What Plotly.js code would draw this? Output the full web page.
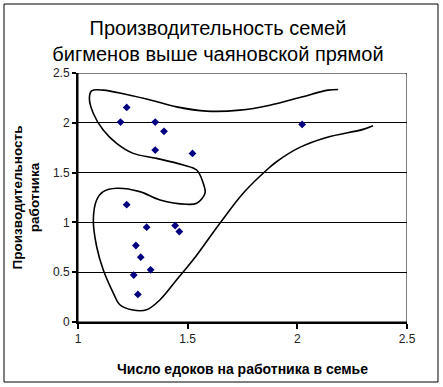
<!DOCTYPE html>
<html>
<head>
<meta charset="utf-8">
<script src="https://cdn.plot.ly/plotly-3.0.1.min.js"></script>
<style>html,body{margin:0;padding:0;background:#fff;}#chart{width:443px;height:387px;}</style>
</head>
<body>
<div id="chart"></div>
<script>
// Points: eaters per worker (x) vs productivity per worker (y)
const eatersPerWorker = [1.222, 1.194, 1.352, 1.392, 1.352, 1.522, 1.222, 1.313, 1.443, 1.462, 1.264, 1.286, 1.331, 1.254, 1.273, 2.022];
const productivity    = [2.154, 2.007, 2.007, 1.914, 1.726, 1.693, 1.178, 0.952, 0.968, 0.908, 0.768, 0.651, 0.524, 0.471, 0.277, 1.984];

// Hand-drawn outline curve
const curveX = [2.186,2.140,2.011,1.875,1.738,1.586,1.450,1.343,1.222,1.115,1.062,1.052,1.070,1.115,1.176,1.252,1.359,1.480,1.541,1.571,1.579,1.541,1.495,1.374,1.282,1.176,1.115,1.085,1.070,1.085,1.115,1.161,1.191,1.245,1.313,1.374,1.450,1.525,1.647,1.753,1.860,1.905,2.011,2.133,2.300,2.345];
const curveY = [2.335,2.328,2.254,2.177,2.127,2.117,2.160,2.222,2.284,2.328,2.321,2.244,2.094,1.927,1.794,1.693,1.643,1.576,1.526,1.393,1.293,1.192,1.182,1.225,1.309,1.343,1.309,1.225,1.025,0.758,0.524,0.291,0.173,0.123,0.123,0.223,0.424,0.624,0.992,1.293,1.526,1.609,1.753,1.853,1.934,1.970];

const xTicks = [1, 1.5, 2, 2.5];
const xTickText = ['1', '1.5', '2', '2.5'];
const yTicks = [0, 0.5, 1, 1.5, 2, 2.5];
const yTickText = ['0', '0.5', '1', '1.5', '2', '2.5'];

const titleText = 'Производительность семей<br>бигменов выше чаяновской прямой';
const xTitle = 'Число едоков на работника в семье';
const yTitle = 'Производительность<br>работника';

const font = '"Liberation Sans", Arial, sans-serif';

const traces = [
  {
    x: curveX, y: curveY, type: 'scatter', mode: 'lines',
    line: {color: '#000', width: 1.6, shape: 'spline', smoothing: 1},
    hoverinfo: 'skip', showlegend: false
  },
  {
    x: eatersPerWorker, y: productivity, type: 'scatter', mode: 'markers',
    marker: {symbol: 'diamond', size: 6, color: '#000080'},
    showlegend: false
  }
];

const layout = {
  width: 443, height: 387,
  margin: {l: 78, r: 36, t: 73, b: 65, pad: 0},
  paper_bgcolor: '#fff', plot_bgcolor: '#fff',
  font: {family: font, color: '#000'},
  showlegend: false,
  title: {
    text: titleText,
    font: {family: font, size: 20, color: '#000'},
    x: 0.492, xref: 'container', xanchor: 'center',
    yref: 'container', y: 0.910, yanchor: 'top'
  },
  xaxis: {
    range: [1, 2.5], tickvals: xTicks, ticktext: xTickText,
    showgrid: false, zeroline: false,
    showline: true, linecolor: '#000', linewidth: 2,
    ticks: 'outside', ticklen: 5, tickwidth: 2, tickcolor: '#000',
    tickfont: {family: font, size: 12, color: '#222'},
    title: {text: xTitle, font: {family: font, size: 14, color: '#000', weight: 'bold'}, standoff: 19}
  },
  yaxis: {
    range: [0, 2.5], tickvals: yTicks, ticktext: yTickText,
    showgrid: true, gridcolor: '#000', gridwidth: 1,
    zeroline: false,
    showline: true, linecolor: '#000', linewidth: 2,
    ticks: 'outside', ticklen: 4, tickwidth: 2, tickcolor: '#000',
    tickfont: {family: font, size: 12, color: '#222'},
    title: {text: yTitle, font: {family: font, size: 13.5, color: '#000', weight: 'bold'}, standoff: 10}
  },
  shapes: [
    {type: 'rect', xref: 'x', yref: 'y', x0: 1, x1: 2.5, y0: 0, y1: 2.5,
     line: {color: '#000', width: 1}, layer: 'below'},
    {type: 'rect', xref: 'paper', yref: 'paper', x0: -0.2249, x1: 1.0942, y0: -0.241, y1: 1.2771,
     line: {color: '#000', width: 1}}
  ]
};

Plotly.newPlot('chart', traces, layout, {staticPlot: true, displayModeBar: false});
</script>
</body>
</html>
